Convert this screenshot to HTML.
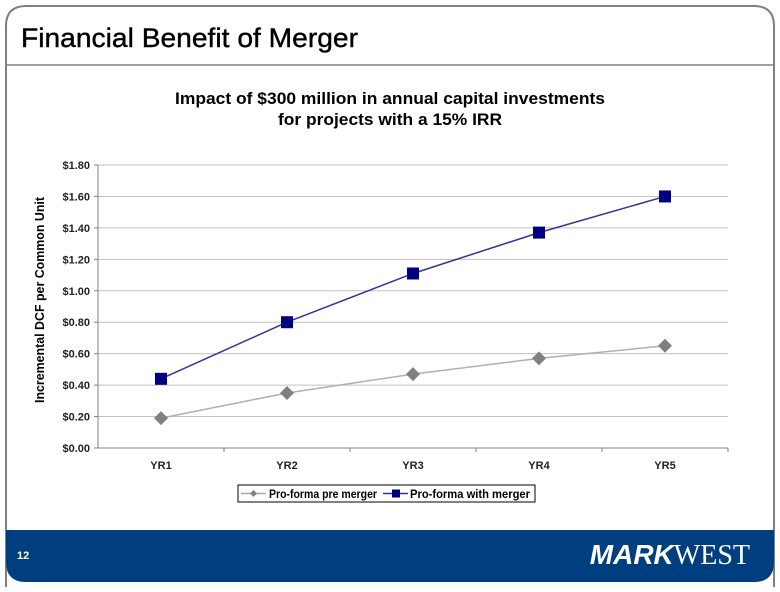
<!DOCTYPE html>
<html><head><meta charset="utf-8"><style>
body{margin:0;width:780px;height:587px;background:#fff;overflow:hidden;font-family:"Liberation Sans",Arial,sans-serif}
</style></head><body>
<svg width="780" height="587" viewBox="0 0 780 587" font-family="Liberation Sans, Arial, sans-serif">
<path d="M6,587 V26 Q6,6 26,6 H754 Q774,6 774,26 V587" fill="none" stroke="#808080" stroke-width="2"/>
<line x1="6" y1="65" x2="774" y2="65" stroke="#808080" stroke-width="1.5"/>
<text x="21" y="47" font-size="27" textLength="337" lengthAdjust="spacingAndGlyphs" fill="#000" stroke="#000" stroke-width="0.4">Financial Benefit of Merger</text>
<text x="175" y="104" font-size="17" font-weight="bold" textLength="430" lengthAdjust="spacingAndGlyphs">Impact of $300 million in annual capital investments</text>
<text x="278" y="125" font-size="17" font-weight="bold" textLength="224" lengthAdjust="spacingAndGlyphs">for projects with a 15% IRR</text>
<g id="chart"></g>
<text transform="translate(44,300) rotate(-90)" font-size="12.5" font-weight="bold" textLength="206" lengthAdjust="spacingAndGlyphs" text-anchor="middle">Incremental DCF per Common Unit</text>
<g>
<rect x="238" y="485" width="297" height="17" fill="#fff" stroke="#000" stroke-width="1"/>
<line x1="241" y1="493.5" x2="266" y2="493.5" stroke="#aaa" stroke-width="1.5"/>
<path d="M253.5,490 L257,493.5 L253.5,497 L250,493.5Z" fill="#808080"/>
<text x="269" y="498" font-size="12" font-weight="bold" textLength="108" lengthAdjust="spacingAndGlyphs">Pro-forma pre merger</text>
<line x1="383" y1="493.5" x2="408" y2="493.5" stroke="#333399" stroke-width="1.5"/>
<rect x="392" y="489.5" width="8" height="8" fill="#000080"/>
<text x="410" y="498" font-size="12" font-weight="bold" textLength="120" lengthAdjust="spacingAndGlyphs">Pro-forma with merger</text>
</g>
<path d="M6,530 H774 V562 Q774,582 754,582 H26 Q6,582 6,562 Z" fill="#003f7f"/>
<text x="17" y="559" font-size="11" font-weight="bold" fill="#fff">12</text>
<text x="750" y="564" font-size="28" fill="#fff" text-anchor="end"><tspan font-weight="bold" font-style="italic">MARK</tspan><tspan font-family="Liberation Serif, serif">WEST</tspan></text>
</svg>
<script>
const categories=["YR1","YR2","YR3","YR4","YR5"];
const preMerger=[0.19,0.35,0.47,0.57,0.65];
const withMerger=[0.44,0.80,1.11,1.37,1.60];
const yTicks=[0,0.2,0.4,0.6,0.8,1.0,1.2,1.4,1.6,1.8];
const NS="http://www.w3.org/2000/svg";
const g=document.getElementById('chart');
const L=98,R=728,T=165,B=448,yMax=1.8;
const x=i=>L+(R-L)/categories.length*(i+0.5);
const y=v=>B-(B-T)*v/yMax;
function mk(t,a){const e=document.createElementNS(NS,t);for(const k in a)e.setAttribute(k,a[k]);g.appendChild(e);return e;}
yTicks.forEach(v=>{
 const ln=mk('line',{x1:L,x2:R,y1:y(v),y2:y(v),stroke:v===0?'#808080':'#c0c0c0','stroke-width':1});
 
 
 mk('line',{x1:L-4,x2:L,y1:y(v),y2:y(v),stroke:'#808080'});
 const t=mk('text',{x:L-8,y:y(v)+4,'font-size':11,'font-weight':'bold','text-anchor':'end',fill:'#222'});
 t.textContent='$'+v.toFixed(2);
 
 
});
mk('line',{x1:L,x2:L,y1:T,y2:B,stroke:'#808080'});
categories.forEach((c,i)=>{
 const xb=L+(R-L)/categories.length*(i+1);
 mk('line',{x1:xb,x2:xb,y1:B,y2:B+4,stroke:'#808080'});
 const t=mk('text',{x:x(i),y:B+21,'font-size':11,'font-weight':'bold','text-anchor':'middle',fill:'#222'});
 t.textContent=c;
 
 
});
const l1=mk('polyline',{points:preMerger.map((v,i)=>x(i)+','+y(v)).join(' '),fill:'none',stroke:'#b0b0b0','stroke-width':1.5});


const l2=mk('polyline',{points:withMerger.map((v,i)=>x(i)+','+y(v)).join(' '),fill:'none',stroke:'#333399','stroke-width':1.5});


preMerger.forEach((v,i)=>{
 const cx=x(i),cy=y(v);
 const p=mk('path',{d:`M${cx},${cy-7} L${cx+7},${cy} L${cx},${cy+7} L${cx-7},${cy}Z`,fill:'#808080'});
 
 
});
withMerger.forEach((v,i)=>{
 const r=mk('rect',{x:x(i)-6,y:y(v)-6,width:12,height:12,fill:'#000080'});
 
 
});
</script>
</body></html>
